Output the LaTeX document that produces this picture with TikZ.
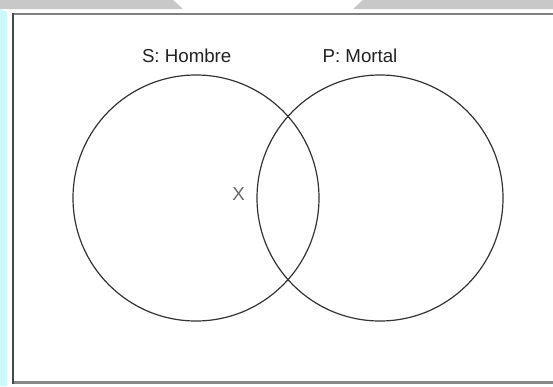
\documentclass[tikz,border=0pt]{standalone}
\usepackage{fontspec}
\setmainfont{Liberation Sans}
\definecolor{bggray}{HTML}{C8C8C8}
\definecolor{bgcyan}{HTML}{CCF8FC}
\definecolor{circ}{HTML}{333333}
\definecolor{lbl}{HTML}{222222}
\definecolor{xcol}{HTML}{666666}
\tikzset{
  setcircle/.style={circle, draw=circ, line width=1.2pt, inner sep=0pt, minimum size=246pt},
  setlabel/.style={anchor=base, inner sep=0pt, text=lbl, font=\fontsize{18.7}{20}\selectfont},
  marklabel/.style={anchor=base, inner sep=0pt, text=xcol, font=\fontsize{18.7}{20}\selectfont},
}
\begin{document}
\begin{tikzpicture}[x=1pt, y=-1pt]
\useasboundingbox (0,0) rectangle (553,386);
\fill[white] (0,0) rectangle (553,386);
% background chrome
\fill[bggray] (0,0) -- (173,0) -- (183,9) -- (0,9) -- cycle;
\fill[bggray] (363,0) -- (553,0) -- (553,9) -- (353,9) -- cycle;
\fill[bgcyan] (0,9) -- (7,12) -- (7,386) -- (0,386) -- cycle;
% frame
\draw[draw=black!50, line width=2pt] (12,13.5) -- (553,13.5);
\draw[draw=black!47, line width=2.4pt] (12,382.5) -- (553,382.5);
\draw[draw=black!72, line width=2pt] (13,12.5) -- (13,383.5);
% sets
\node[setcircle] (S) at (196,198) {};
\node[setcircle] (P) at (380,198) {};
\node[setlabel] (Slabel) at (186.7,62) {S: Hombre};
\node[setlabel] (Plabel) at (360,62) {P: Mortal};
\node[marklabel] (X) at (238.7,200) {X};
\end{tikzpicture}
\end{document}
